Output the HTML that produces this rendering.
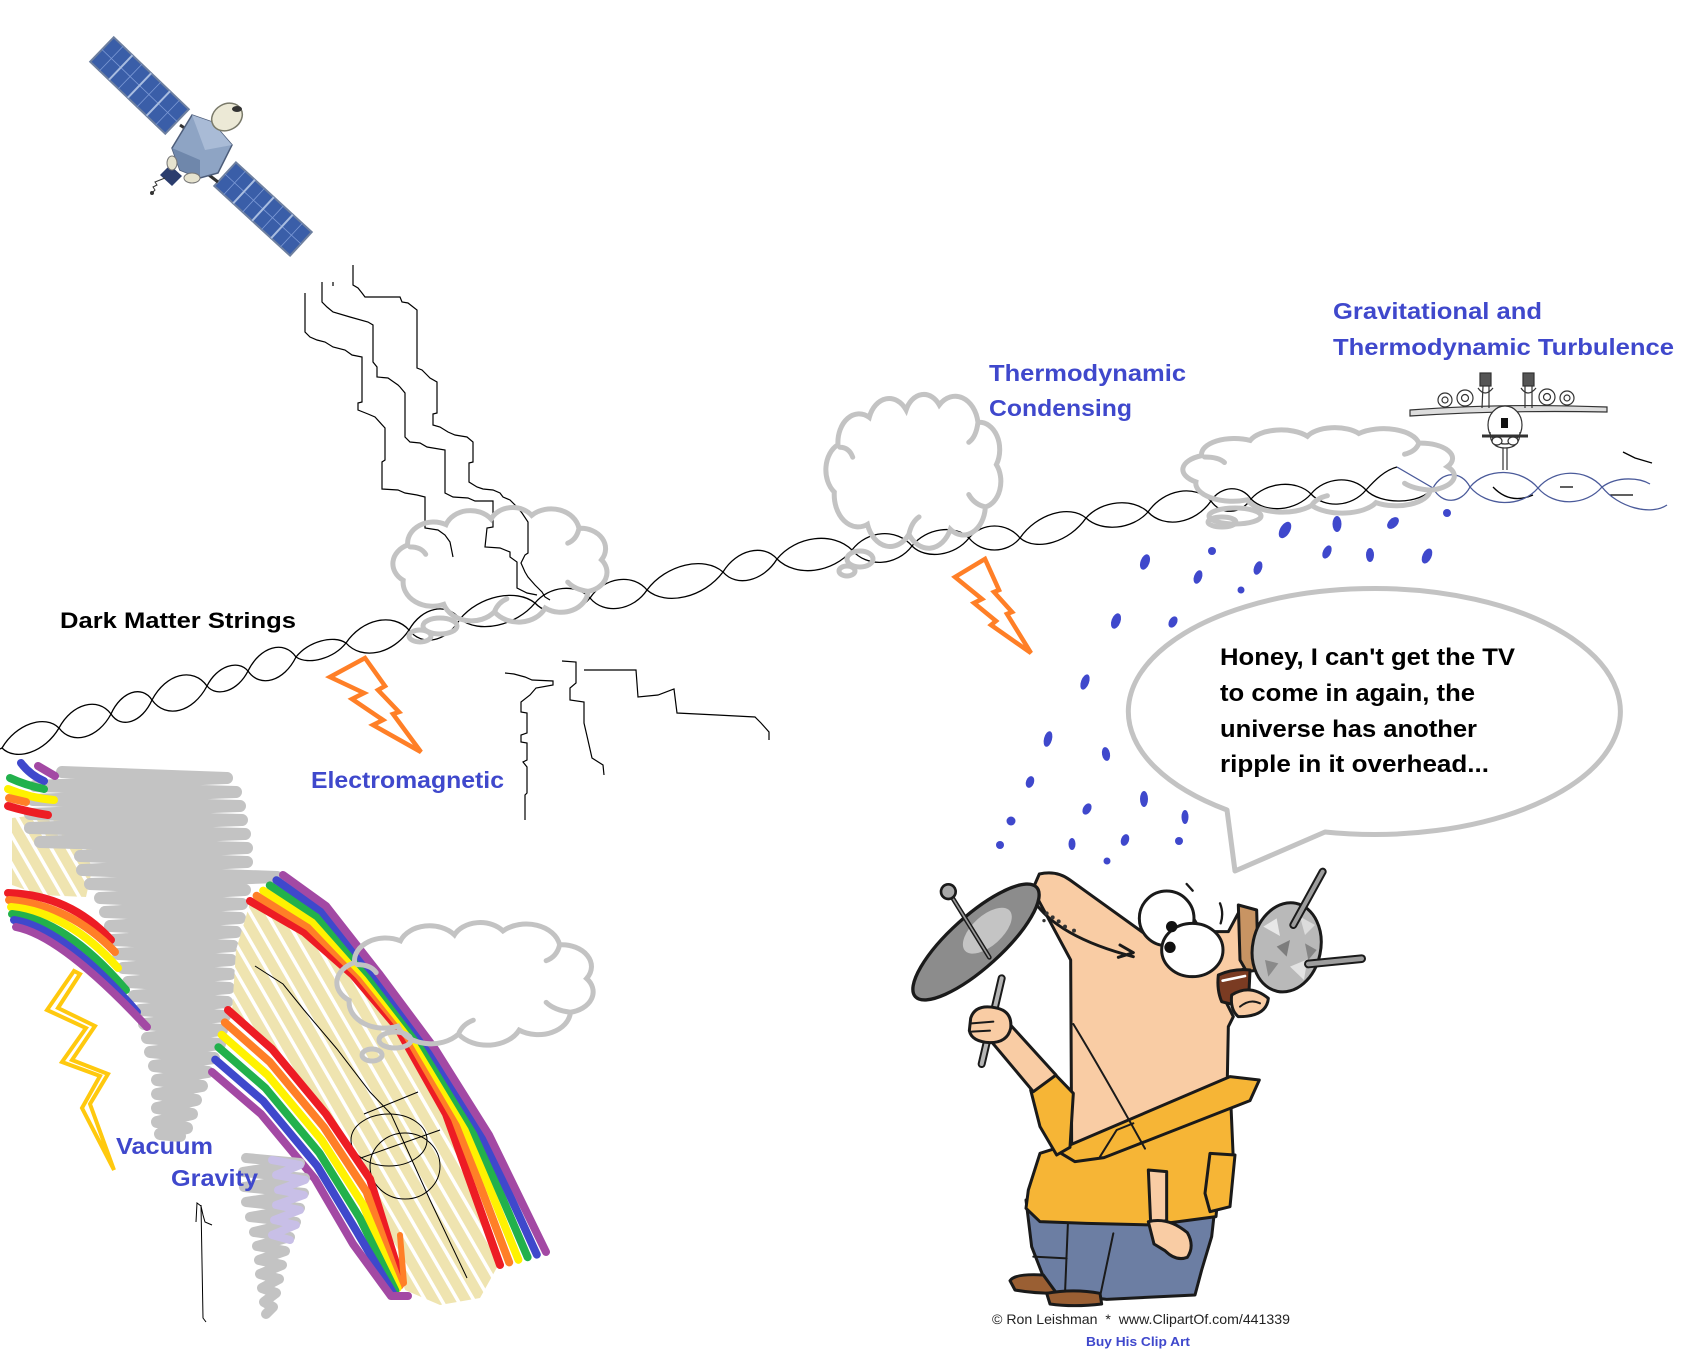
<!DOCTYPE html>
<html>
<head>
<meta charset="utf-8">
<style>
html,body{margin:0;padding:0;background:#fff;}
svg{display:block;}
.lbl{font-family:"Liberation Sans",Arial,sans-serif;font-weight:bold;}
</style>
</head>
<body>
<svg width="1704" height="1360" viewBox="0 0 1704 1360" xmlns="http://www.w3.org/2000/svg">
<defs>
<pattern id="scr" width="14" height="14" patternUnits="userSpaceOnUse" patternTransform="rotate(60)">
<rect width="14" height="14" fill="#efe4b0"/><rect width="14" height="3.5" fill="#fff"/>
</pattern>
</defs>
<rect width="1704" height="1360" fill="#fff"/>

<!-- ===== Satellite ===== -->
<g transform="translate(139.5,85.5) rotate(43.8)">
<rect x="-52" y="-17" width="104" height="34" fill="#3a5ea8" stroke="#6d7f9f" stroke-width="2"/>
<path d="M-52,0H52M-39,-17V17M-13,-17V17M13,-17V17M39,-17V17" stroke="#7d9ad6" stroke-width="0.8" fill="none"/>
<path d="M-26,-17V17M0,-17V17M26,-17V17" stroke="#a9bde0" stroke-width="2" fill="none"/>
</g>
<g transform="translate(263,209) rotate(42.6)">
<rect x="-51.5" y="-16" width="103" height="32" fill="#3a5ea8" stroke="#6d7f9f" stroke-width="2"/>
<path d="M-51.5,0H51.5M-38.6,-16V16M-12.9,-16V16M12.9,-16V16M38.6,-16V16" stroke="#7d9ad6" stroke-width="0.8" fill="none"/>
<path d="M-25.75,-16V16M0,-16V16M25.75,-16V16" stroke="#a9bde0" stroke-width="2" fill="none"/>
</g>
<path d="M180,125L192,133M205,172L218,182" stroke="#333" stroke-width="3"/>
<polygon points="172,148 192,115 212,122 232,145 218,173 200,178 180,170" fill="#8ea4c4" stroke="#4d5d7a" stroke-width="1.5"/>
<polygon points="172,148 200,160 200,178 180,170" fill="#6f87ab"/>
<polygon points="192,115 212,122 232,145 205,150" fill="#a9bbd6"/>
<polygon points="160,175 170,165 182,176 172,186" fill="#2b3d6e"/>
<ellipse cx="227" cy="117" rx="16" ry="13" transform="rotate(-30 227 117)" fill="#ece9d6" stroke="#7a7a6a" stroke-width="1.5"/>
<ellipse cx="237" cy="109" rx="5" ry="3" fill="#333"/>
<ellipse cx="172" cy="163" rx="5" ry="7" fill="#e6e3cf" stroke="#777"/>
<ellipse cx="192" cy="178" rx="8" ry="5" fill="#e6e3cf" stroke="#777"/>
<polyline points="152,193 155,190 153,187 157,185 155,182 160,180 165,178" fill="none" stroke="#333" stroke-width="1"/>
<circle cx="152" cy="193" r="2" fill="#333"/>

<!-- ===== Black jagged lightning lines ===== -->
<g fill="none" stroke="#000" stroke-width="1.2">
<polyline points="305,293 305,332 310,337 317,340 325,342 333,347 345,350 352,355 362,357 362,402 358,403 358,410 368,414 375,417 385,428 385,460 382,462 382,489 398,490 405,493 417,495 425,497 425,528 438,530 445,535 450,542 453,557"/>
<polyline points="322,282 322,302 327,307 333,312 350,317 368,322 373,325 373,362 377,367 377,377 388,378 398,385 400,387 405,393 405,437 410,442 420,443 427,447 445,450 445,493 453,497 468,498 475,501 493,501 493,527 487,528 485,547 500,548 510,552 510,557 517,562 517,588 527,593 537,595"/>
<polyline points="353,265 353,285 358,288 362,293 365,297 400,297 402,302 408,303 417,310 417,368 422,370 427,375 430,378 437,382 437,413 433,414 433,425 440,427 448,432 455,435 467,437 473,442 473,462 469,463 469,482 477,487 483,489 493,490 500,493 503,497 510,500 517,507 522,513 528,522 528,553 525,555 521,563 525,572 528,577 535,585 542,592 545,597 550,600"/>
<polyline points="333,282 333,286"/>
<polyline points="505,673 514,674 525,677 532,680 553,681 553,685 536,688 530,695 521,702 521,712 527,713 527,733 521,735 521,742 527,743 527,760 523,762 527,767 527,793 525,795 525,820"/>
<polyline points="562,661 576,662 576,683 570,688 570,700 584,702 584,723 587,736 592,758 603,765 604,775"/>
<polyline points="584,670 636,670 638,697 658,695 674,689 677,713 717,715 755,717 761,723 769,732 769,740"/>
</g>

<!-- ===== Helix (dark matter strings) ===== -->
<g fill="none" stroke="#000" stroke-width="1.3">
<path d="M0,749 L2,748 C16,724 45,714 59,728 C72,745.5 98,738.5 111,714 C121,691.5 142,684.5 152,700 C166,719.5 193,712.5 207,686 C217,666 238,659 248,671 C260,688.5 284,681.5 296,657 C308.5,641.5 333.5,634.5 346,643 C362,661 393,654 409,630 C422,607 447,602 460,619 C479,634 516,626 535,603 C549,586 576,583 590,598 C604,615 633,611 647,590 C666,564.5 704,555.5 723,572 C736.5,587.75 763.5,581.25 777,559 C796,535.75 833,531.25 852,550 C867,568 897,566 912,546 C926,528 955,524 969,538 C982,554 1007,554 1020,538 C1036.5,514 1069.5,504 1086,518 C1101.5,532.5 1132.5,529.5 1148,512 C1164,489 1195,484 1211,501 C1221,515.5 1241,514.5 1251,499 C1266,482 1296,479 1311,494 C1325,509 1352,507 1366,490 C1375,480 1385,470 1397,467"/>
<path d="M2,748 C16,762 45,752 59,728 C72,703.5 98,696.5 111,714 C121,729.5 142,722.5 152,700 C166,673.5 193,666.5 207,686 C217,698 238,691 248,671 C260,646.5 284,639.5 296,657 C308.5,665.5 333.5,658.5 346,643 C362,619 393,612 409,630 C422,647 447,642 460,619 C479,596 516,588 535,603 C549,618 576,615 590,598 C604,577 633,573 647,590 C666,606.5 704,597.5 723,572 C736.5,549.75 763.5,543.25 777,559 C796,577.75 833,573.25 852,550 C867,530 897,528 912,546 C926,560 955,556 969,538 C982,522 1007,522 1020,538 C1036.5,552 1069.5,542 1086,518 C1101.5,500.5 1132.5,497.5 1148,512 C1164,529 1195,524 1211,501 C1221,485.5 1241,484.5 1251,499 C1266,514 1296,511 1311,494 C1325,477 1352,475 1366,490 C1380,505 1420,505 1433,488"/>
<path d="M1493,487 Q1510,505 1533,495 M1560,487 L1573,487 M1610,495 L1633,495 M1623,452 L1635,458 L1652,463"/>
</g>
<g fill="none" stroke="#4a5a9a" stroke-width="1.3">
<path d="M1397,467 L1433,488 C1442,471 1461,470 1470,487 C1487,507 1521,508 1538,488 C1554,469 1586,468 1602,487 C1618,507.5 1651,516 1667,505"/>
<path d="M1433,488 C1442,505 1461,504 1470,487 C1487,467 1521,468 1538,488 C1554,507 1586,506 1602,487 C1618,475.5 1640,478 1650,484"/>
</g>

<!-- ===== Airplane ===== -->
<g stroke="#333" stroke-width="1.2" fill="#fff">
<path d="M1410,410 Q1500,403 1607,407 L1607,412 Q1500,410 1410,416 Z" fill="#ddd"/>
<path d="M1482,408 L1483,386 M1489,408 L1489,386 M1525,408 L1525,386 M1532,408 L1532,386" fill="none"/>
<path d="M1478,388 Q1485,398 1493,388 M1521,388 Q1528,398 1536,388" fill="none"/>
<rect x="1480" y="373" width="11" height="13" fill="#555"/>
<rect x="1523" y="373" width="11" height="13" fill="#555"/>
<circle cx="1445" cy="400" r="7"/><circle cx="1445" cy="400" r="3"/>
<circle cx="1465" cy="398" r="8"/><circle cx="1465" cy="398" r="3.5"/>
<circle cx="1547" cy="397" r="8"/><circle cx="1547" cy="397" r="3.5"/>
<circle cx="1567" cy="398" r="7"/><circle cx="1567" cy="398" r="3"/>
<ellipse cx="1505" cy="425" rx="17" ry="19"/>
<rect x="1501" y="418" width="7" height="10" fill="#111" stroke="none"/>
<path d="M1482,436 L1528,436" stroke-width="3" fill="none"/>
<path d="M1490,432 Q1490,448 1505,448 Q1520,448 1520,432" fill="none"/>
<ellipse cx="1497" cy="441" rx="5" ry="4"/><ellipse cx="1513" cy="441" rx="5" ry="4"/>
<path d="M1503,448 L1503,470 M1507,448 L1507,470" fill="none"/>
</g>

<!-- ===== Clouds ===== -->
<g fill="none" stroke="#c3c3c3" stroke-width="5" stroke-linecap="round">
<g transform="translate(387.4,506.1) scale(1.127,0.927)">
<path vector-effect="non-scaling-stroke" d="M14,80 A22,22 0 0 1 18,42 A23,23 0 0 1 52,20 A23,23 0 0 1 92,14 A21,21 0 0 1 128,10 A25,25 0 0 1 170,24 A22,22 0 0 1 190,58 A21,21 0 0 1 178,92 A24,24 0 0 1 140,110 A26,26 0 0 1 95,114 A26,26 0 0 1 50,106 A26,26 0 0 1 14,80 Z M20,44 Q30,44 34,52 M170,24 Q168,36 160,40 M178,92 Q166,90 160,82 M95,114 Q98,104 106,100"/>
</g>
<ellipse cx="440" cy="626" rx="17" ry="8"/><ellipse cx="420" cy="636" rx="11" ry="6"/>
<g transform="translate(821.4,392.5) scale(0.921,1.244)">
<path vector-effect="non-scaling-stroke" d="M14,80 A22,22 0 0 1 18,42 A23,23 0 0 1 52,20 A23,23 0 0 1 92,14 A21,21 0 0 1 128,10 A25,25 0 0 1 170,24 A22,22 0 0 1 190,58 A21,21 0 0 1 178,92 A24,24 0 0 1 140,110 A26,26 0 0 1 95,114 A26,26 0 0 1 50,106 A26,26 0 0 1 14,80 Z M20,44 Q30,44 34,52 M170,24 Q168,36 160,40 M178,92 Q166,90 160,82 M95,114 Q98,104 106,100"/>
</g>
<ellipse cx="860" cy="559" rx="13" ry="8"/><ellipse cx="847" cy="571" rx="8" ry="5"/>
<g transform="translate(1175.9,426.6) scale(1.429,0.691)">
<path vector-effect="non-scaling-stroke" d="M14,80 A22,22 0 0 1 18,42 A23,23 0 0 1 52,20 A23,23 0 0 1 92,14 A21,21 0 0 1 128,10 A25,25 0 0 1 170,24 A22,22 0 0 1 190,58 A21,21 0 0 1 178,92 A24,24 0 0 1 140,110 A26,26 0 0 1 95,114 A26,26 0 0 1 50,106 A26,26 0 0 1 14,80 Z M20,44 Q30,44 34,52 M170,24 Q168,36 160,40 M178,92 Q166,90 160,82 M95,114 Q98,104 106,100"/>
</g>
<ellipse cx="1235" cy="516" rx="26" ry="8"/><ellipse cx="1222" cy="522" rx="14" ry="5"/>
</g>

<!-- ===== Rain drops ===== -->
<g fill="#3f48cc">
<ellipse cx="1285" cy="530" rx="5" ry="9" transform="rotate(30 1285 530)"/>
<ellipse cx="1337" cy="524" rx="4.5" ry="8"/>
<ellipse cx="1393" cy="523" rx="4.5" ry="7" transform="rotate(45 1393 523)"/>
<circle cx="1447" cy="513" r="4"/>
<circle cx="1212" cy="551" r="4"/>
<ellipse cx="1327" cy="552" rx="4" ry="7" transform="rotate(25 1327 552)"/>
<ellipse cx="1370" cy="555" rx="4" ry="7"/>
<ellipse cx="1427" cy="556" rx="4.5" ry="8" transform="rotate(25 1427 556)"/>
<ellipse cx="1145" cy="562" rx="4.5" ry="8" transform="rotate(20 1145 562)"/>
<ellipse cx="1198" cy="577" rx="4" ry="7" transform="rotate(20 1198 577)"/>
<ellipse cx="1258" cy="568" rx="4" ry="7" transform="rotate(20 1258 568)"/>
<circle cx="1241" cy="590" r="3.5"/>
<ellipse cx="1116" cy="621" rx="4.5" ry="8" transform="rotate(20 1116 621)"/>
<ellipse cx="1173" cy="622" rx="4" ry="6" transform="rotate(30 1173 622)"/>
<ellipse cx="1085" cy="682" rx="4" ry="8" transform="rotate(20 1085 682)"/>
<ellipse cx="1048" cy="739" rx="4" ry="8" transform="rotate(15 1048 739)"/>
<ellipse cx="1106" cy="754" rx="4" ry="7" transform="rotate(-10 1106 754)"/>
<ellipse cx="1030" cy="782" rx="4" ry="6" transform="rotate(20 1030 782)"/>
<ellipse cx="1087" cy="809" rx="4" ry="6" transform="rotate(30 1087 809)"/>
<ellipse cx="1144" cy="799" rx="4" ry="8"/>
<ellipse cx="1185" cy="817" rx="3.5" ry="7"/>
<circle cx="1011" cy="821" r="4.5"/>
<circle cx="1000" cy="845" r="4"/>
<ellipse cx="1072" cy="844" rx="3.5" ry="6"/>
<ellipse cx="1125" cy="840" rx="4" ry="6" transform="rotate(20 1125 840)"/>
<circle cx="1179" cy="841" r="4"/>
<circle cx="1107" cy="861" r="3.5"/>
</g>

<!-- ===== Orange bolts ===== -->
<g fill="none" stroke="#ff7f27" stroke-width="4.5" stroke-linejoin="miter">
<polygon points="330,677 365,658 385,686 378,690 399,712 393,714 421,752 373,725 383,720 352,699 364,693"/>
<polygon points="955,577 985,559 999,590 994,592 1012,612 1007,614 1031,653 991,625 996,621 974,603 982,599"/>
</g>

<!-- ===== Left bottom: tornado, rainbows ===== -->
<polygon points="12,818 45,814 88,828 92,870 86,897 40,895 12,885" fill="url(#scr)"/>
<polyline fill="none" stroke="#c3c3c3" stroke-width="12" stroke-linejoin="round" stroke-linecap="round" points="62,772 227,778 35,786 236,792 33,800 240,806 30,814 242,820 30,828 245,834 40,842 247,848 80,856 247,862 82,870 277,877 90,884 245,890 100,898 242,904 105,912 240,918 110,926 236,932 113,940 233,946 118,954 231,960 123,968 230,974 128,982 229,988 134,996 227,1002 140,1010 225,1016 144,1024 222,1030 147,1038 220,1044 150,1052 214,1058 154,1066 208,1072 157,1080 202,1086 157,1094 196,1100 157,1108 192,1114 157,1122 187,1128 160,1134 180,1136"/>
<polygon points="250,903 304,934 353,977 397,1029 446,1116 475,1190 500,1262 480,1298 440,1305 405,1290 372,1182 328,1116 272,1052 232,1012 236,950" fill="url(#scr)"/>
<g fill="none" stroke="#000" stroke-width="1">
<polyline points="255,966 283,984 304,1010 337,1049 370,1092 391,1114 430,1200 467,1278"/>
<ellipse cx="389" cy="1140" rx="38" ry="26"/>
<ellipse cx="405" cy="1166" rx="35" ry="33"/>
<path d="M364,1114 L418,1092 M355,1160 L440,1130"/>
</g>
<!-- rainbow A -->
<g fill="none" stroke-width="8" stroke-linecap="round">
<path d="M38,766 L55,776" stroke="#a349a4"/>
<path d="M21,763 Q30,775 44,781" stroke="#3f48cc"/>
<path d="M10,778 Q25,785 44,789" stroke="#22b14c"/>
<path d="M8,789 Q30,798 54,800" stroke="#fff200"/>
<path d="M9,798 L26,802" stroke="#ff7f27"/>
<path d="M8,806 Q28,812 48,815" stroke="#ed1c24"/>
</g>
<!-- rainbow B -->
<g fill="none" stroke-width="8" stroke-linecap="round">
<path d="M8,893 Q70,895 111,940" stroke="#ed1c24"/>
<path d="M9,900 Q70,905 115,952" stroke="#ff7f27"/>
<path d="M11,907 Q68,912 118,968" stroke="#fff200"/>
<path d="M12,914 Q66,920 126,990" stroke="#22b14c"/>
<path d="M14,920 Q64,928 137,1012" stroke="#3f48cc"/>
<path d="M16,927 Q62,936 147,1027" stroke="#a349a4"/>
</g>
<!-- rainbow C -->
<g fill="none" stroke-width="8" stroke-linecap="round" stroke-linejoin="round">
<polyline points="250,901 304,932 353,975 397,1027 446,1114 500,1265" stroke="#ed1c24"/>
<polyline points="256.6,895.8 308.4,926.8 358.4,975 404.6,1031.4 454.6,1118.2 509.2,1262.4" stroke="#ff7f27"/>
<polyline points="263.2,890.6 312.8,921.6 363.8,975 412.2,1035.8 463.2,1122.4 518.4,1259.8" stroke="#fff200"/>
<polyline points="269.8,885.4 317.2,916.4 369.2,975 419.8,1040.2 471.8,1126.6 527.6,1257.2" stroke="#22b14c"/>
<polyline points="276.4,880.2 321.6,911.2 374.6,975 427.4,1044.6 480.4,1130.8 536.8,1254.6" stroke="#3f48cc"/>
<polyline points="283,875 326,906 380,975 435,1049 489,1135 546,1252" stroke="#a349a4"/>
</g>
<!-- rainbow D -->
<g fill="none" stroke-width="8" stroke-linecap="round" stroke-linejoin="round">
<polyline points="228,1010 272,1049 326,1114 370,1179 402,1283" stroke="#ed1c24"/>
<polyline points="224.8,1022.4 269.8,1062 323.8,1127 366.6,1192 399.8,1285.6" stroke="#ff7f27"/>
<polyline points="221.6,1034.8 267.6,1075 321.6,1140 363.2,1205 397.6,1288.2" stroke="#fff200"/>
<polyline points="218.4,1047.2 265.4,1088 319.4,1153 359.8,1218 395.4,1290.8" stroke="#22b14c"/>
<polyline points="215.2,1059.6 263.2,1101 317.2,1166 356.4,1231 393.2,1293.4" stroke="#3f48cc"/>
<polyline points="212,1072 261,1114 315,1179 353,1244 391,1296 408,1296" stroke="#a349a4"/>
<path d="M400,1235 L404,1283" stroke="#ff7f27" stroke-width="6"/>
</g>
<!-- small tornado -->
<polyline fill="none" stroke="#c3c3c3" stroke-width="10" stroke-linejoin="round" stroke-linecap="round" points="246,1158 300,1163 243,1172 305,1178 244,1187 304,1193 246,1202 300,1208 250,1217 296,1222 254,1232 290,1237 257,1246 285,1251 259,1260 282,1265 260,1274 279,1279 262,1288 276,1293 264,1302 273,1307 266,1314"/>
<polyline fill="none" stroke="#c8bfe7" stroke-width="8" stroke-linejoin="round" stroke-linecap="round" points="272,1160 300,1165 276,1175 305,1180 278,1190 304,1195 276,1205 300,1210 274,1220 296,1225 272,1235 290,1240"/>
<path d="M196,1222 L197,1203 L201,1206 L203,1215 L205,1222 L212,1225 M201,1205 L203,1318 L206,1322" fill="none" stroke="#000" stroke-width="1"/>
<!-- cloud 4 -->
<g fill="none" stroke="#c3c3c3" stroke-width="5" stroke-linecap="round">
<g transform="translate(330.3,921) scale(1.349,0.992)">
<path vector-effect="non-scaling-stroke" d="M14,80 A22,22 0 0 1 18,42 A23,23 0 0 1 52,20 A23,23 0 0 1 92,14 A21,21 0 0 1 128,10 A25,25 0 0 1 170,24 A22,22 0 0 1 190,58 A21,21 0 0 1 178,92 A24,24 0 0 1 140,110 A26,26 0 0 1 95,114 A26,26 0 0 1 50,106 A26,26 0 0 1 14,80 Z M20,44 Q30,44 34,52 M170,24 Q168,36 160,40 M178,92 Q166,90 160,82 M95,114 Q98,104 106,100"/>
</g>
<ellipse cx="395" cy="1040" rx="16" ry="8"/><ellipse cx="372" cy="1055" rx="10" ry="6"/>
</g>
<!-- yellow bolt -->
<polygon points="74,971 47,1010 86,1028 62,1062 100,1076 82,1108 114,1170 90,1104 108,1074 72,1060 95,1026 58,1008 80,974" fill="none" stroke="#ffc90e" stroke-width="4" stroke-linejoin="miter"/>

<!-- ===== Speech bubble ===== -->
<path d="M1325,832 L1235,871 L1227,810 A246,123 0 1 1 1325,832 Z" fill="#fff" stroke="#c3c3c3" stroke-width="5" stroke-linejoin="round"/>

<!-- ===== Cartoon man ===== -->
<g transform="translate(900,860) scale(0.33333)" stroke="#1a1a1a" stroke-width="9" stroke-linejoin="round" stroke-linecap="round">
<path d="M378,1020 L945,1040 L935,1130 L905,1230 L885,1305 L620,1318 L470,1300 L430,1250 L395,1160 Z" fill="#6c7ea3"/>
<path d="M505,1060 L495,1300 M400,1190 L500,1195 M640,1120 L600,1310" fill="none" stroke-width="6"/>
<path d="M330,1262 Q345,1240 430,1245 L470,1300 Q400,1300 345,1290 Z" fill="#9a5f33"/>
<path d="M440,1300 Q520,1285 600,1300 L605,1332 Q520,1342 450,1332 Z" fill="#9a5f33"/>
<path d="M385,990 L420,880 L515,850 L990,670 L1000,900 L960,940 L948,1070 L760,1095 L560,1090 L420,1085 L378,1045 Z" fill="#f6b536"/>
<path d="M930,880 L1005,885 L990,1040 L930,1055 L915,1000 Z" fill="#f6b536"/>
<path d="M418,42 Q470,30 510,60 L735,222 L745,150 L840,110 L905,215 L985,215 L1020,150 L1045,320 L995,345 L965,400 L1000,470 L985,500 L982,655 L1000,690 L515,860 L512,300 L398,88 Z" fill="#f9cca4"/>
<path d="M470,872 L990,650 L1078,660 L1050,722 L612,893 L525,905 Z" fill="#f6b536"/>
<path d="M600,890 L650,810 L700,790" fill="none" stroke-width="6"/>
<path d="M392,690 L462,640 L520,700 L510,862 L470,885 L420,800 Z" fill="#f6b536"/>
<path d="M245,510 L318,480 L468,645 L400,695 Z" fill="#f9cca4"/>
<path d="M400,120 Q470,230 700,290 M660,255 L700,278 L655,292" fill="none"/>
<g fill="#333" stroke="none">
<circle cx="440" cy="160" r="6"/><circle cx="458" cy="172" r="6"/><circle cx="476" cy="184" r="6"/><circle cx="495" cy="200" r="6"/><circle cx="522" cy="212" r="6"/><circle cx="432" cy="182" r="5"/>
</g>
<path d="M520,492 Q610,640 735,866" fill="none" stroke-width="6"/>
<path d="M1015,135 L1070,150 L1075,330 L1040,335 L1020,300 Z" fill="#c89463"/>
<circle cx="800" cy="175" r="82" fill="#fff"/>
<ellipse cx="877" cy="270" rx="92" ry="80" fill="#fff"/>
<circle cx="815" cy="200" r="17" fill="#111" stroke="none"/>
<circle cx="810" cy="262" r="17" fill="#111" stroke="none"/>
<path d="M860,72 L878,92 M960,130 Q972,160 962,190" fill="none" stroke-width="7"/>
<path d="M955,345 Q1000,325 1050,330 L1045,440 Q1000,435 965,425 Q950,390 955,345 Z" fill="#7a3b22"/>
<path d="M968,362 L1035,348" stroke="#fff" stroke-width="8"/>
<path d="M995,405 Q1050,370 1105,415 Q1100,470 1015,470 Q990,450 995,405 Z" fill="#f9cca4"/>
<path d="M1020,440 Q1050,415 1080,430" fill="none" stroke-width="6"/>
<ellipse cx="1160" cy="262" rx="102" ry="135" transform="rotate(12 1160 262)" fill="#b9b9b9"/>
<g stroke="none">
<path d="M1090,200 L1130,175 L1140,228 Z" fill="#e8e8e8"/>
<path d="M1170,320 L1222,298 L1212,360 Z" fill="#e2e2e2"/>
<path d="M1130,260 L1170,240 L1160,290 Z" fill="#7d7d7d"/>
<path d="M1200,170 L1245,195 L1215,225 Z" fill="#dcdcdc"/>
<path d="M1095,300 L1135,310 L1105,350 Z" fill="#8a8a8a"/>
<path d="M1215,250 L1250,270 L1225,300 Z" fill="#858585"/>
</g>
<line x1="1180" y1="195" x2="1268" y2="35" stroke-width="24"/>
<line x1="1180" y1="195" x2="1268" y2="35" stroke="#9d9d9d" stroke-width="12"/>
<line x1="1225" y1="312" x2="1385" y2="296" stroke-width="26"/>
<line x1="1225" y1="312" x2="1385" y2="296" stroke="#9d9d9d" stroke-width="14"/>
<path d="M745,930 L800,935 L800,1082 L752,1090 Z" fill="#f9cca4"/>
<path d="M745,1085 Q805,1070 862,1118 Q885,1158 862,1192 Q828,1205 795,1172 L762,1152 Z" fill="#f9cca4"/>
<line x1="305" y1="355" x2="245" y2="612" stroke-width="24"/>
<line x1="305" y1="355" x2="245" y2="612" stroke="#b5b5b5" stroke-width="12"/>
<path d="M212,475 Q225,432 285,443 Q338,452 332,505 Q322,548 270,548 Q215,545 208,512 Z" fill="#f9cca4"/>
<path d="M215,490 L280,485 M215,515 L270,512" fill="none" stroke-width="6"/>
<ellipse cx="228" cy="246" rx="245" ry="78" transform="rotate(-42 228 246)" fill="#8c8c8c" stroke-width="10"/>
<ellipse cx="262" cy="212" rx="90" ry="45" transform="rotate(-42 262 212)" fill="#c4c4c4" stroke="none"/>
<line x1="148" y1="98" x2="268" y2="292" stroke-width="14"/>
<line x1="148" y1="98" x2="268" y2="292" stroke="#9a9a9a" stroke-width="5"/>
<circle cx="145" cy="95" r="22" fill="#a9a9a9" stroke-width="8"/>
</g>

<!-- ===== Text labels ===== -->
<g class="lbl">
<text x="60" y="628" font-size="22" fill="#000" textLength="236" lengthAdjust="spacingAndGlyphs">Dark Matter Strings</text>
<text x="311" y="788" font-size="23" fill="#3f48cc" textLength="193" lengthAdjust="spacingAndGlyphs">Electromagnetic</text>
<text x="989" y="381" font-size="23" fill="#3f48cc" textLength="197" lengthAdjust="spacingAndGlyphs">Thermodynamic</text>
<text x="989" y="416" font-size="23" fill="#3f48cc" textLength="143" lengthAdjust="spacingAndGlyphs">Condensing</text>
<text x="1333" y="319" font-size="23" fill="#3f48cc" textLength="209" lengthAdjust="spacingAndGlyphs">Gravitational and</text>
<text x="1333" y="355" font-size="23" fill="#3f48cc" textLength="341" lengthAdjust="spacingAndGlyphs">Thermodynamic Turbulence</text>
<text x="116" y="1154" font-size="23" fill="#3f48cc" textLength="97" lengthAdjust="spacingAndGlyphs">Vacuum</text>
<text x="171" y="1186" font-size="23" fill="#3f48cc" textLength="87" lengthAdjust="spacingAndGlyphs">Gravity</text>
<text x="1220" y="665" font-size="24" fill="#000" textLength="295" lengthAdjust="spacingAndGlyphs">Honey, I can't get the TV</text>
<text x="1220" y="701" font-size="24" fill="#000" textLength="255" lengthAdjust="spacingAndGlyphs">to come in again, the</text>
<text x="1220" y="737" font-size="24" fill="#000" textLength="257" lengthAdjust="spacingAndGlyphs">universe has another</text>
<text x="1220" y="772" font-size="24" fill="#000" textLength="269" lengthAdjust="spacingAndGlyphs">ripple in it overhead...</text>
<text x="1086" y="1346" font-size="13" fill="#3f48cc" textLength="104" lengthAdjust="spacingAndGlyphs">Buy His Clip Art</text>
</g>
<text x="992" y="1324" font-family="'Liberation Sans',Arial,sans-serif" font-size="14" fill="#222" textLength="298" lengthAdjust="spacingAndGlyphs">© Ron Leishman&#160;&#160;*&#160;&#160;www.ClipartOf.com/441339</text>
</svg>
</body>
</html>
